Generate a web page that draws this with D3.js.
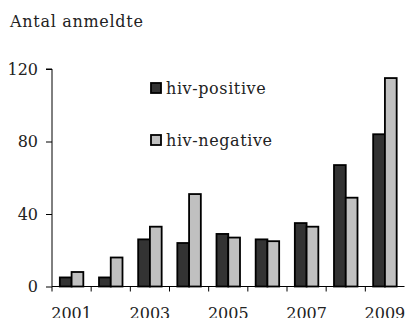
<!DOCTYPE html>
<html>
<head>
<meta charset="utf-8">
<script src="https://cdn.jsdelivr.net/npm/d3@7"></script>
<style>
  body { margin: 0; background: #fff; }
  svg text { font-family: "DejaVu Serif", serif; fill: #222; }
</style>
</head>
<body>
<svg id="chart"></svg>
<script>
const years = [2001, 2002, 2003, 2004, 2005, 2006, 2007, 2008, 2009];
const hivPositive = [5, 5, 26, 24, 29, 26, 35, 67, 84];
const hivNegative = [8, 16, 33, 51, 27, 25, 33, 49, 115];
const seriesNames = ["hiv-positive", "hiv-negative"];
const seriesColors = ["#333333", "#c0c0c0"];
const yTicks = [0, 40, 80, 120];
const xLabels = [2001, 2003, 2005, 2007, 2009];

const width = 405, height = 318;
const margin = {top: 69, right: 0.5, bottom: 31.5, left: 52};

const svg = d3.select('#chart')
    .attr('width', width)
    .attr('height', height);

const data = years.map((y, i) => ({year: y, values: [hivPositive[i], hivNegative[i]]}));

const xScale = d3.scaleBand()
    .domain(years)
    .range([margin.left, width - margin.right])
    .padding(0);

const bw = xScale.bandwidth();
const x1 = d3.scaleBand()
    .domain([0, 1])
    .range([bw * 0.2, bw * 0.8])
    .padding(0);

const yScale = d3.scaleLinear()
    .domain([0, 120])
    .range([height - margin.bottom, margin.top]);

// title
svg.append('text')
    .attr('x', 10)
    .attr('y', 26.5)
    .style('font-size', '16px')
    .style('letter-spacing', '0.7px')
    .text('Antal anmeldte');

// bars
const groups = svg.selectAll('.year')
    .data(data)
    .join('g')
    .attr('class', 'year')
    .attr('transform', d => `translate(${xScale(d.year)},0)`);

groups.selectAll('rect')
    .data(d => d.values.map((v, i) => ({i, v})))
    .join('rect')
    .attr('x', d => x1(d.i))
    .attr('width', x1.bandwidth())
    .attr('y', d => yScale(d.v))
    .attr('height', d => yScale(0) - yScale(d.v))
    .attr('fill', d => seriesColors[d.i])
    .attr('stroke', '#000')
    .attr('stroke-width', 1.8);

// y axis
const yAxis = d3.axisLeft(yScale)
    .tickValues(yTicks)
    .tickSize(6)
    .tickPadding(8);

const yAxisG = svg.append('g')
    .attr('transform', `translate(${margin.left},0)`)
    .call(yAxis);
yAxisG.select('.domain').attr('d', `M-6,${yScale(120)}H0V${yScale(0)}`);
yAxisG.selectAll('text').style('font-size', '16px').attr('fill', '#222');

// x axis: line, ticks at band boundaries, labels at band centres
const xAxisG = svg.append('g')
    .attr('transform', `translate(0,${yScale(0)})`);

xAxisG.append('line')
    .attr('x1', margin.left)
    .attr('x2', width - margin.right)
    .attr('stroke', '#000');

xAxisG.selectAll('.xtick')
    .data(years)
    .join('line')
    .attr('class', 'xtick')
    .attr('x1', d => xScale(d))
    .attr('x2', d => xScale(d))
    .attr('y1', 0)
    .attr('y2', 5)
    .attr('stroke', '#000');

xAxisG.selectAll('.xlabel')
    .data(xLabels)
    .join('text')
    .attr('class', 'xlabel')
    .attr('x', d => xScale(d) + bw / 2)
    .attr('y', 32)
    .attr('text-anchor', 'middle')
    .style('font-size', '16px')
    .text(d => d);

// legend
const legend = svg.selectAll('.legend')
    .data(seriesNames)
    .join('g')
    .attr('class', 'legend')
    .attr('transform', (d, i) => `translate(151,${83 + i * 52})`);

legend.append('rect')
    .attr('width', 10)
    .attr('height', 10)
    .attr('fill', (d, i) => seriesColors[i])
    .attr('stroke', '#000')
    .attr('stroke-width', 1.8);

legend.append('text')
    .attr('x', 15)
    .attr('y', 10.5)
    .style('font-size', '16px')
    .style('letter-spacing', '0.6px')
    .text(d => d);
</script>
</body>
</html>
